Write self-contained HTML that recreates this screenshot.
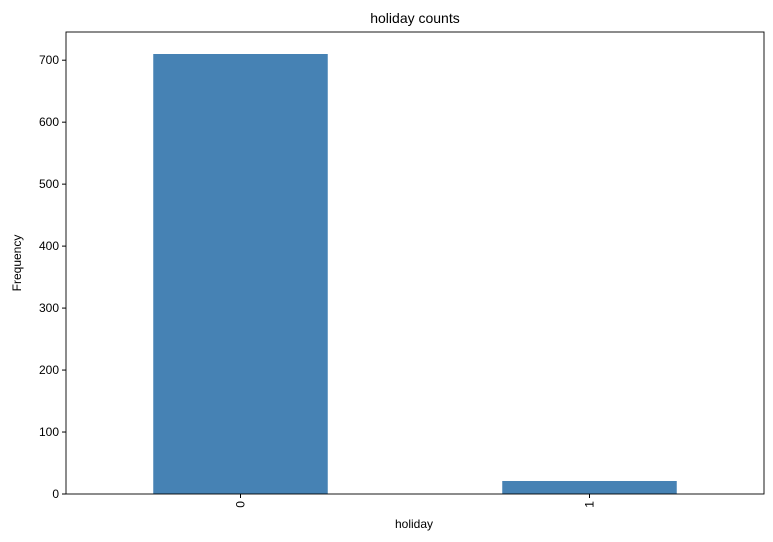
<!DOCTYPE html>
<html>
<head>
<meta charset="utf-8">
<style>
  html,body{margin:0;padding:0;background:#fff;}
  svg{display:block;font-family:"Liberation Sans","DejaVu Sans",sans-serif;}
</style>
</head>
<body>
<svg id="chart" width="773" height="542" viewBox="0 0 773 542">
  <rect x="0" y="0" width="773" height="542" fill="#fff"/>
  <text x="415" y="23" text-anchor="middle" font-size="14" fill="#000">holiday counts</text>
  <g id="bars"></g>
  <g id="yticks"></g>
  <g id="xticks"></g>
  <rect x="66" y="32" width="698" height="462" fill="none" stroke="#000" stroke-width="0.9"/>
  <text x="414" y="528" text-anchor="middle" font-size="12" fill="#000">holiday</text>
  <text transform="translate(21,263) rotate(-90)" text-anchor="middle" font-size="12" fill="#000">Frequency</text>
</svg>
<script>
const categories = ["0", "1"];
const counts = [710, 21];
const yTickValues = [0, 100, 200, 300, 400, 500, 600, 700];

const ns = "http://www.w3.org/2000/svg";
const plotLeft = 66, plotRight = 764, plotTop = 32, plotBottom = 494;
const yMax = Math.max(...counts) * 1.05;
function yScale(v){ return plotBottom - v / yMax * (plotBottom - plotTop); }
function xScale(i){ return plotLeft + (i + 0.5) / categories.length * (plotRight - plotLeft); }
const barW = 0.5 / categories.length * (plotRight - plotLeft);

const barsG = document.getElementById('bars');
counts.forEach((v, i) => {
  const r = document.createElementNS(ns, 'rect');
  r.setAttribute('x', xScale(i) - barW / 2);
  r.setAttribute('y', yScale(v));
  r.setAttribute('width', barW);
  r.setAttribute('height', plotBottom - yScale(v));
  r.setAttribute('fill', '#4682b4');
  
  
  barsG.appendChild(r);
});

const yG = document.getElementById('yticks');
yTickValues.forEach(t => {
  const y = yScale(t);
  const l = document.createElementNS(ns, 'line');
  l.setAttribute('x1', plotLeft - 4); l.setAttribute('x2', plotLeft);
  l.setAttribute('y1', y); l.setAttribute('y2', y);
  l.setAttribute('stroke', '#000');
  
  
  yG.appendChild(l);
  const tx = document.createElementNS(ns, 'text');
  tx.setAttribute('x', plotLeft - 7); tx.setAttribute('y', y + 4);
  tx.setAttribute('text-anchor', 'end'); tx.setAttribute('font-size', '12');
  tx.textContent = t;
  
  
  yG.appendChild(tx);
});

const xG = document.getElementById('xticks');
categories.forEach((c, i) => {
  const x = xScale(i);
  const l = document.createElementNS(ns, 'line');
  l.setAttribute('x1', x); l.setAttribute('x2', x);
  l.setAttribute('y1', plotBottom); l.setAttribute('y2', plotBottom + 4);
  l.setAttribute('stroke', '#000');
  
  
  xG.appendChild(l);
  const tx = document.createElementNS(ns, 'text');
  tx.setAttribute('transform', 'translate(' + (x + 4) + ',' + (plotBottom + 7) + ') rotate(-90)');
  tx.setAttribute('text-anchor', 'end'); tx.setAttribute('font-size', '12');
  tx.textContent = c;
  
  
  xG.appendChild(tx);
});
</script>
</body>
</html>
